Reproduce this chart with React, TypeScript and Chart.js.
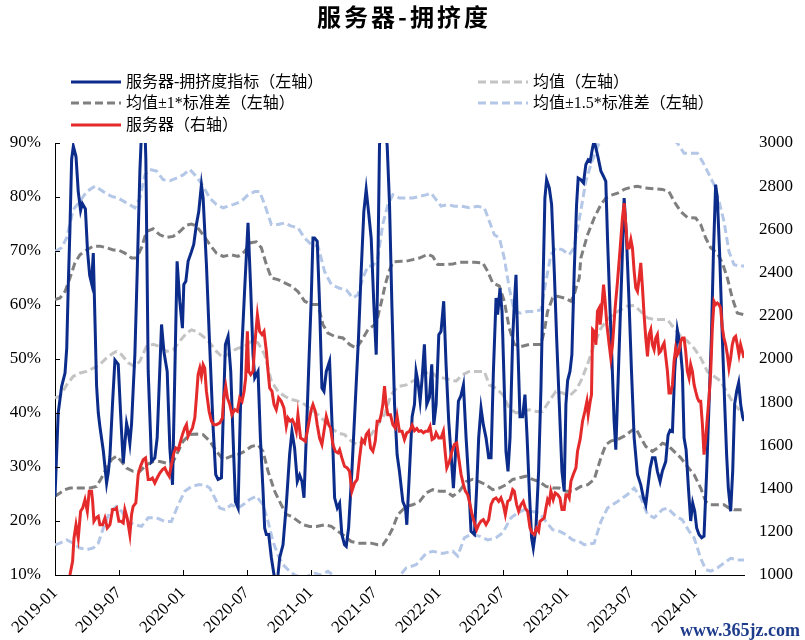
import { useEffect, useRef } from 'react';
import { Chart, registerables } from 'chart.js';

Chart.register(...registerables);

// x values: months since 2019-01 (0 = 2019-01, 6 = 2019-07, ...)
const title = '服务器-拥挤度';
const seriesNames = ['服务器-拥挤度指标（左轴）', '均值（左轴）', '均值±1*标准差（左轴）', '均值±1.5*标准差（左轴）', '服务器（右轴）'];
const xMin = 0;
const xMax = 64.61;
const xStep = 6;
const leftTicks = { min: 10, max: 90, step: 10 };
const rightTicks = { min: 1000, max: 3000, step: 200 };
const watermark = 'www.365jz.com';

// 服务器-拥挤度指标 (%), left axis
const indexSeries: [number, number][] = [
  [0, 24.5], [0.3, 40], [0.62, 44.9], [0.94, 47.4], [1.1, 52], [1.25, 64], [1.4, 74], [1.56, 87], [1.72, 89.4], [1.97, 87.5],
  [2.18, 81], [2.4, 77.5], [2.56, 78.8], [2.85, 77.8], [3.05, 70], [3.25, 65.5], [3.43, 64], [3.59, 69.6], [3.75, 57], [3.9, 45],
  [4.06, 40], [4.21, 37.5], [4.53, 33], [4.84, 27], [5.0, 29], [5.15, 32], [5.4, 42], [5.62, 49.8], [5.93, 49], [6.15, 40],
  [6.25, 36.2], [6.4, 30.7], [6.71, 38.1], [6.87, 36.6], [7.02, 34.4], [7.18, 38], [7.33, 44.3], [7.49, 50.8], [7.71, 66.2], [7.96, 84.8],
  [8.11, 92], [8.43, 93], [8.52, 87], [8.74, 47.7], [9.05, 31], [9.36, 31.7], [9.58, 35.4], [9.99, 56.4], [10.21, 51.4], [10.52, 47.7],
  [10.77, 33.5], [11.02, 26.7], [11.24, 47.7], [11.45, 68.1], [11.7, 60.7], [11.95, 55.7], [12.08, 63.8], [12.27, 64.4], [12.48, 68.1], [12.8, 69.9],
  [13.01, 71.2], [13.26, 74.9], [13.48, 77.3], [13.73, 82.3], [13.89, 79.8], [14.2, 67.5], [14.45, 55.1], [14.83, 37.2], [15.07, 28.6], [15.29, 27.7],
  [15.61, 28], [15.76, 38.5], [15.98, 52.7], [16.23, 54.2], [16.48, 47.7], [16.7, 35.4], [16.92, 23.6], [17.17, 22.4], [17.32, 35.4], [17.54, 52.7],
  [17.79, 63.1], [18.1, 75.2], [18.35, 63.1], [18.57, 50.8], [18.73, 46.5], [19.04, 47.7], [19.26, 35.4], [19.51, 25.5], [19.66, 18.7], [19.82, 17.5],
  [20.04, 17.5], [20.29, 13.2], [20.54, 10], [20.75, 8.5], [20.91, 10], [21.07, 13.2], [21.38, 15.6], [21.69, 23], [22.0, 32.3], [22.22, 36.6],
  [22.47, 33.5], [22.72, 27.3], [22.94, 28.5], [23.16, 27.3], [23.35, 24.3], [23.56, 35.4], [23.78, 47.7], [24.03, 61.3], [24.19, 72.4], [24.34, 72.4],
  [24.59, 71.8], [24.81, 60.1], [25.03, 44.6], [25.22, 44], [25.44, 47.7], [25.75, 49.6], [25.97, 38.5], [26.22, 24.3], [26.47, 22.4], [26.69, 23.3],
  [26.9, 17.5], [27.15, 15.6], [27.31, 15.3], [27.53, 18.7], [27.84, 29.2], [28.15, 41.6], [28.46, 53.9], [28.71, 66.2], [28.96, 77.3], [29.18, 81.4],
  [29.4, 77.3], [29.65, 72.4], [29.9, 60.1], [30.12, 50.8], [30.27, 66.2], [30.43, 89.7], [30.65, 93], [30.96, 93], [31.15, 89.5], [31.37, 78.6],
  [31.59, 60.1], [31.84, 41.6], [32.08, 32.3], [32.3, 29.2], [32.62, 23.6], [32.87, 22.4], [32.99, 19.3], [33.24, 29.2], [33.49, 39.3], [33.71, 41.6],
  [33.86, 47.7], [34.02, 46], [34.24, 42.2], [34.43, 46.5], [34.64, 52.7], [34.86, 41.6], [35.11, 42.9], [35.33, 49], [35.52, 37.8], [35.74, 41.6],
  [35.99, 54.5], [36.2, 55.1], [36.45, 60.7], [36.67, 49], [36.92, 38.5], [37.14, 32.3], [37.36, 26.1], [37.61, 34.2], [37.83, 42.2], [38.05, 43.1],
  [38.3, 45.2], [38.55, 35.4], [38.76, 28.6], [39.01, 18.1], [39.33, 17.5], [39.54, 26.1], [39.73, 35.4], [39.95, 40.9], [40.17, 37.8], [40.42, 35.4],
  [40.67, 31.7], [40.89, 31.7], [41.11, 47.7], [41.36, 61.3], [41.51, 58.2], [41.73, 63.1], [41.92, 58.8], [42.13, 44.6], [42.29, 32.9], [42.48, 29.2],
  [42.67, 35.4], [42.92, 53.9], [43.07, 60.1], [43.23, 65.6], [43.38, 53.9], [43.6, 39.3], [43.85, 39.3], [44.07, 43.4], [44.26, 35.9], [44.48, 25.5],
  [44.69, 16.9], [44.85, 15], [45.1, 18.7], [45.35, 29.2], [45.57, 44.6], [45.79, 66.2], [45.94, 79.8], [46.1, 83.2], [46.35, 81.7], [46.57, 78.6],
  [46.82, 66.2], [47.04, 53.9], [47.29, 41.6], [47.54, 29.2], [47.75, 25.5], [47.91, 41.6], [48.07, 46], [48.29, 47.7], [48.47, 50.8], [48.69, 66.2],
  [48.91, 78.6], [49.06, 83.5], [49.31, 83.2], [49.56, 82.6], [49.78, 86], [50.0, 86.9], [50.19, 86.6], [50.41, 89.1], [50.56, 90.5], [50.72, 89.1],
  [50.94, 87.2], [51.19, 84.8], [51.44, 83.8], [51.65, 82.9], [51.81, 72.4], [52.03, 60.1], [52.22, 50.2], [52.43, 38.5], [52.59, 33.2], [52.75, 42.8],
  [52.97, 55.7], [53.15, 66.2], [53.37, 79.8], [53.59, 72.4], [53.84, 60.1], [54.06, 47.7], [54.31, 35.4], [54.62, 28.6], [54.93, 26.7], [55.18, 24.3],
  [55.4, 23], [55.62, 26.7], [55.81, 29.8], [56.02, 31.7], [56.27, 31.7], [56.49, 29.2], [56.74, 27.3], [56.95, 29.2], [57.27, 31], [57.49, 35.9],
  [57.68, 36.8], [57.9, 36.6], [58.11, 47.7], [58.36, 55.4], [58.61, 52.7], [58.83, 47.7], [58.99, 35.4], [59.18, 33.2], [59.4, 26.1], [59.61, 20],
  [59.8, 23.3], [59.99, 21.8], [60.17, 18.7], [60.39, 17.5], [60.64, 16.9], [60.86, 17.2], [61.11, 29.2], [61.33, 41.6], [61.55, 53.9], [61.74, 69.3],
  [61.95, 82.3], [62.11, 79.8], [62.33, 69.3], [62.58, 53.9], [62.8, 41.6], [62.98, 32.3], [63.14, 26.1], [63.36, 21.8], [63.55, 29.2], [63.73, 41.6],
  [63.92, 44], [64.11, 45.6], [64.3, 41.6], [64.48, 39.3], [64.61, 38.5],
];

// 均值 (%)
const meanSeries: [number, number][] = [
  [0, 42.8], [0.47, 43.1], [1.09, 45.2], [1.72, 46.8], [2.34, 47.4], [2.97, 47.7], [3.59, 48.3], [4.21, 49], [4.84, 50.2], [5.46, 51.1],
  [5.77, 51.4], [6.24, 50.8], [6.87, 49.3], [7.49, 48.6], [7.96, 49.6], [8.58, 52.3], [9.21, 52.7], [9.83, 52.3], [10.46, 51.4], [11.08, 51.7],
  [11.7, 53.3], [12.33, 54.8], [12.8, 55.4], [13.26, 55.1], [13.89, 54.2], [14.51, 53], [15.14, 51.4], [15.76, 50.2], [16.54, 51.4], [17.17, 52],
  [17.79, 52.3], [18.41, 53.3], [19.04, 53], [19.66, 50.8], [20.29, 45.9], [20.91, 44], [21.54, 43.1], [22.16, 42.5], [22.78, 42.2], [23.41, 41.6],
  [24.03, 40.6], [24.66, 39.7], [25.28, 38.5], [25.91, 37.2], [26.53, 36.3], [27.15, 36], [27.78, 34.8], [28.4, 34.1], [29.03, 35.1], [29.65, 36],
  [30.27, 37.8], [30.9, 39.7], [31.52, 43.4], [32.15, 44.9], [32.93, 45.2], [33.55, 45.9], [34.18, 46.5], [34.8, 47.4], [35.27, 47.7], [35.74, 46.8],
  [36.36, 46.5], [36.99, 46.2], [37.61, 45.9], [38.23, 47.1], [38.86, 47.7], [39.48, 47.7], [40.26, 47.7], [40.73, 45.2], [41.36, 44.6], [41.98, 43.4],
  [42.6, 40.9], [43.23, 40], [43.85, 40.3], [44.48, 40.6], [45.1, 40.3], [45.72, 40.3], [46.35, 42.2], [46.97, 44], [47.6, 43.7], [48.22, 43.1],
  [48.85, 44.3], [49.31, 45.9], [49.94, 49], [50.56, 52.7], [51.19, 55.7], [51.81, 57.3], [52.43, 58.5], [53.06, 59.1], [53.68, 59.8], [54.31, 59.9],
  [54.93, 58.8], [55.56, 57.6], [56.18, 57.3], [56.8, 57.3], [57.43, 57.3], [58.05, 55.7], [58.68, 54.2], [59.3, 53.3], [59.93, 52], [60.55, 50.2],
  [61.17, 47.7], [61.8, 46.8], [62.42, 45.9], [63.05, 43.7], [63.67, 41.6], [64.3, 40.3], [64.61, 40],
];

// 均值+1*标准差 (%)
const upper1Series: [number, number][] = [
  [0, 61], [0.47, 61.3], [0.94, 62.5], [1.4, 65], [1.87, 67.8], [2.34, 69.3], [2.97, 70.2], [3.59, 70.9], [4.21, 70.9], [4.84, 70.6],
  [5.46, 70.2], [5.93, 70.2], [6.55, 69.6], [7.18, 68.7], [7.65, 68.7], [8.11, 70.6], [8.58, 73.6], [9.21, 74.1], [9.83, 73], [10.46, 72.5],
  [11.08, 72.7], [11.7, 73.6], [12.33, 74.8], [12.8, 75], [13.26, 74.6], [13.89, 73], [14.51, 71.2], [15.14, 69.6], [15.76, 69], [16.54, 69.3],
  [17.17, 69], [17.79, 69.9], [18.26, 71.5], [18.88, 71.7], [19.35, 70.6], [19.82, 67.5], [20.29, 65], [20.91, 64.7], [21.54, 64.1], [22.16, 63.5],
  [22.78, 62.5], [23.41, 60.7], [24.03, 60.1], [24.66, 60.1], [25.12, 56.4], [25.59, 54.8], [26.22, 54.2], [27.0, 53.9], [27.62, 52.7], [28.25, 52],
  [28.71, 53.3], [29.34, 55.4], [30.12, 56.6], [30.6, 60.5], [31.0, 64], [31.37, 66.5], [31.7, 68], [32.46, 68.1], [32.93, 68.1], [33.55, 68.4],
  [34.18, 68.7], [34.96, 69.4], [35.42, 69], [35.89, 67.5], [36.52, 67.5], [37.3, 67.6], [37.92, 67.9], [38.55, 67.9], [39.33, 67.9], [40.11, 67.8],
  [40.58, 66.2], [41.04, 64.1], [41.67, 63.5], [42.13, 60.7], [42.6, 55.7], [43.07, 52.7], [43.7, 52.3], [44.48, 52.7], [45.1, 52.7], [45.57, 52.7],
  [45.88, 55.1], [46.19, 58.8], [46.66, 61.3], [47.13, 61.6], [47.75, 61.3], [48.38, 60.7], [48.69, 61.9], [48.85, 63.1], [49.16, 65], [49.31, 68.7],
  [49.94, 73], [50.56, 76.1], [51.19, 78.6], [51.65, 79.8], [52.12, 80.3], [52.75, 80.7], [53.37, 81.4], [53.99, 81.8], [54.62, 82], [55.24, 81.7],
  [56.18, 81.5], [56.96, 81.4], [57.58, 81], [58.05, 79.2], [58.68, 77.3], [59.3, 76.2], [60.08, 76.1], [60.55, 74.9], [61.02, 72.4], [61.49, 70.6],
  [62.11, 69.6], [62.58, 67.8], [63.05, 65], [63.51, 61.3], [63.98, 58.5], [64.61, 58.2],
];

// 均值-1*标准差 (%)
const lower1Series: [number, number][] = [
  [0, 24.6], [0.47, 25.2], [0.94, 25.8], [1.4, 26.1], [2.03, 26.1], [2.65, 26.1], [3.28, 26.1], [3.9, 26.4], [4.37, 28], [4.84, 29.8],
  [5.31, 31.4], [5.77, 32], [6.24, 31], [6.71, 29.8], [7.33, 29.2], [7.96, 29.2], [8.58, 30.4], [9.21, 31], [9.83, 31], [10.46, 30.7],
  [11.08, 31], [11.55, 32.9], [12.02, 34.8], [12.64, 36], [13.26, 36.1], [13.89, 36], [14.51, 34.8], [15.14, 32.9], [15.76, 31.4], [16.54, 32],
  [17.17, 32.3], [17.79, 32.9], [18.41, 33.8], [19.04, 34.1], [19.51, 32.9], [19.98, 29.2], [20.6, 25.5], [21.22, 23], [21.69, 21.2], [22.16, 20.9],
  [22.63, 20.2], [23.25, 19.3], [23.88, 19], [24.5, 19], [25.28, 19.3], [25.91, 19], [26.53, 18.1], [27.15, 17.2], [27.78, 16.2], [28.4, 15.9],
  [29.03, 15.9], [29.65, 15.9], [30.27, 15.6], [30.74, 15.6], [31.21, 16.9], [31.68, 18.7], [32.15, 21.2], [32.93, 22.7], [33.55, 23], [34.18, 23.6],
  [34.8, 25.2], [35.42, 25.8], [36.05, 25.5], [36.67, 25.5], [37.3, 24.6], [37.92, 25.5], [38.55, 27.3], [39.17, 27.7], [39.79, 27.3], [40.42, 26.7],
  [41.04, 25.8], [41.67, 26.1], [42.29, 26.7], [42.92, 27.7], [43.54, 28], [44.16, 28.3], [44.79, 27.7], [45.41, 27.3], [46.04, 26.4], [46.66, 26.1],
  [47.29, 26.1], [47.91, 25.5], [48.53, 25.5], [49.31, 26.4], [49.94, 26.7], [50.56, 27.7], [51.19, 31.7], [51.65, 34.1], [52.12, 34.8], [52.75, 35.1],
  [53.37, 35.7], [53.99, 36.6], [54.46, 37.2], [54.93, 35.4], [55.4, 33.8], [56.02, 32.9], [56.49, 33.5], [56.96, 34.4], [57.43, 34.1], [58.05, 32.9],
  [58.68, 31.7], [59.3, 30.1], [59.93, 28.6], [60.55, 26.1], [61.02, 23.6], [61.49, 23], [62.11, 23], [62.73, 23], [63.2, 22.4], [63.67, 22.1],
  [64.61, 22.1],
];

// 均值+1.5*标准差 (%)
const upper15Series: [number, number][] = [
  [0, 69.9], [0.62, 70.6], [1.09, 72.4], [1.72, 77.7], [2.34, 79.2], [2.97, 81], [3.75, 82], [4.53, 81], [5.31, 80.1], [5.93, 79.8],
  [6.71, 78.9], [7.49, 78], [7.96, 79.8], [8.43, 84.1], [8.9, 85.1], [9.52, 84.8], [10.14, 83.2], [10.77, 83], [11.39, 83.5], [12.02, 84.1],
  [12.64, 85.1], [13.26, 83.8], [13.89, 82], [14.51, 79.8], [15.14, 78.6], [15.76, 78], [16.7, 78.6], [17.48, 79.2], [18.1, 80.4], [18.73, 81],
  [19.19, 81], [19.66, 78.6], [20.29, 74.9], [20.91, 74.9], [21.54, 75.2], [22.16, 74.6], [22.78, 74.3], [23.41, 72.4], [24.03, 71.2], [24.66, 70.9],
  [25.28, 66.2], [25.91, 63.8], [26.69, 63.1], [27.31, 62.8], [27.93, 61.3], [28.4, 61.9], [28.87, 65], [29.34, 67.2], [29.81, 67.2], [30.27, 68.7],
  [30.74, 75], [31.21, 78.5], [31.68, 80.4], [32.3, 79.8], [32.93, 79.8], [33.55, 79.8], [34.18, 80.1], [34.8, 80.4], [35.27, 80.7], [35.74, 79.5],
  [36.2, 78.3], [36.83, 78.6], [37.45, 78.3], [38.08, 78.3], [38.86, 78], [39.64, 78.3], [40.26, 78], [40.73, 75.5], [41.2, 73], [41.67, 72.4],
  [42.13, 68.7], [42.6, 63.1], [43.07, 58.8], [43.7, 58.5], [44.32, 58.8], [44.95, 58.8], [45.57, 59.1], [46.04, 64.4], [46.5, 69.3], [46.97, 70.6],
  [47.6, 70.2], [48.22, 69.3], [48.69, 70.6], [49.0, 74.3], [49.31, 77.5], [49.78, 82.9], [50.25, 86], [50.72, 88.5], [51.03, 90], [51.6, 91.5],
  [52.5, 92.5], [53.5, 93.5], [54.5, 94], [55.5, 94], [56.5, 93], [57.3, 91.5], [58.36, 90], [58.99, 88.1], [59.61, 88.1], [60.24, 88.1],
  [60.71, 86.6], [61.17, 84.8], [61.8, 82.3], [62.27, 79.2], [62.73, 75.5], [63.2, 69.9], [63.67, 67.5], [64.14, 67.2], [64.61, 67.2],
];

// 均值-1.5*标准差 (%)
const lower15Series: [number, number][] = [
  [0, 15.6], [0.47, 15.9], [1.09, 16.5], [1.72, 15.9], [2.34, 15], [2.97, 14.7], [3.59, 15], [4.06, 15.9], [4.53, 18.7], [5.15, 21.8],
  [5.77, 22.7], [6.24, 21.8], [6.87, 19.9], [7.49, 19.3], [8.11, 19], [8.74, 20.6], [9.52, 20.6], [10.3, 19.9], [10.92, 19.9], [11.55, 23],
  [12.17, 25.5], [12.8, 26.4], [13.42, 26.7], [14.04, 26.7], [14.51, 26.1], [14.98, 24.3], [15.45, 22.4], [15.92, 22.1], [16.54, 23], [17.17, 22.4],
  [17.63, 23], [18.26, 24], [18.88, 24.6], [19.51, 23], [19.98, 19.9], [20.44, 16.2], [20.91, 13.7], [21.38, 11.9], [21.85, 11], [22.47, 10],
  [23.1, 9.5], [23.72, 9.8], [24.34, 10.3], [24.97, 10], [25.59, 10.7], [26.06, 10], [27.2, 8.2], [28.4, 6.8], [29.3, 5.5], [30.3, 4.5],
  [31.2, 4.5], [31.8, 6], [32.3, 9.8], [32.93, 11.3], [33.86, 11.9], [34.8, 14], [35.42, 14.4], [36.36, 14], [37.3, 14.4], [37.76, 13.5],
  [38.39, 16.9], [39.01, 17.5], [39.79, 17.2], [40.58, 16.5], [41.36, 16.9], [41.98, 17.8], [42.76, 20.6], [43.38, 21.5], [44.01, 22.1], [44.63, 21.8],
  [45.41, 21.5], [46.04, 19.9], [46.66, 18.4], [47.29, 18.1], [47.91, 17.5], [48.53, 16.5], [49.16, 16.2], [49.63, 15.6], [50.56, 15.9], [51.19, 19.9],
  [51.81, 22.4], [52.75, 23.6], [53.68, 24.9], [54.31, 26.1], [54.93, 24.3], [55.56, 21.2], [56.18, 20.6], [56.96, 22.1], [57.43, 22.4], [58.05, 21.2],
  [58.83, 20.2], [59.46, 18.1], [59.93, 16.9], [60.55, 13.1], [61.02, 11], [61.49, 10.7], [62.11, 11.3], [62.73, 12.2], [63.36, 13.1], [63.98, 12.8],
  [64.61, 12.8],
];

// 服务器 (right axis)
const serverSeries: [number, number][] = [
  [1.4, 1000], [1.65, 1063], [1.78, 1171], [1.97, 1233], [2.18, 1171], [2.4, 1295], [2.59, 1310], [2.81, 1349], [3.03, 1295], [3.21, 1388],
  [3.43, 1388], [3.53, 1341], [3.65, 1249], [3.84, 1264], [4.06, 1272], [4.21, 1233], [4.46, 1233], [4.68, 1264], [4.9, 1218], [5.15, 1233],
  [5.4, 1303], [5.62, 1303], [5.77, 1310], [5.99, 1249], [6.18, 1249], [6.4, 1241], [6.55, 1303], [6.77, 1264], [7.02, 1187], [7.18, 1280],
  [7.33, 1318], [7.58, 1334], [7.8, 1465], [8.02, 1503], [8.27, 1534], [8.49, 1542], [8.74, 1442], [8.96, 1442], [9.14, 1449], [9.36, 1426],
  [9.58, 1449], [9.83, 1472], [10.08, 1488], [10.3, 1496], [10.52, 1472], [10.71, 1457], [10.92, 1511], [11.14, 1565], [11.33, 1588], [11.55, 1580],
  [11.77, 1619], [11.95, 1650], [12.17, 1681], [12.33, 1696], [12.48, 1642], [12.64, 1658], [12.89, 1681], [13.11, 1727], [13.26, 1820], [13.42, 1928],
  [13.58, 1958], [13.73, 1920], [13.89, 1974], [14.04, 1958], [14.2, 1850], [14.45, 1758], [14.67, 1712], [14.89, 1696], [15.14, 1696], [15.45, 1704],
  [15.7, 1727], [15.82, 1820], [16.01, 1874], [16.17, 1820], [16.39, 1789], [16.6, 1742], [16.85, 1766], [17.1, 1758], [17.32, 1820], [17.54, 1804],
  [17.73, 1850], [17.88, 1912], [18.04, 2128], [18.16, 1943], [18.35, 1928], [18.57, 1943], [18.73, 2066], [18.98, 2205], [19.19, 2128], [19.41, 2113],
  [19.6, 2128], [19.82, 2036], [19.98, 1943], [20.13, 1866], [20.35, 1850], [20.54, 1789], [20.75, 1766], [20.97, 1820], [21.22, 1804], [21.47, 1773],
  [21.69, 1688], [21.85, 1727], [22.07, 1712], [22.25, 1719], [22.47, 1696], [22.63, 1665], [22.78, 1742], [23.03, 1634], [23.25, 1627], [23.47, 1619],
  [23.66, 1665], [23.88, 1727], [24.03, 1766], [24.19, 1789], [24.41, 1758], [24.59, 1696], [24.81, 1634], [25.03, 1604], [25.22, 1665], [25.44, 1735],
  [25.66, 1696], [25.84, 1681], [26.06, 1604], [26.28, 1573], [26.53, 1565], [26.69, 1580], [26.9, 1542], [27.15, 1503], [27.4, 1496], [27.62, 1480],
  [27.84, 1388], [28.09, 1426], [28.34, 1442], [28.56, 1542], [28.78, 1627], [29.03, 1611], [29.18, 1650], [29.4, 1665], [29.59, 1588], [29.81, 1573],
  [30.03, 1619], [30.21, 1712], [30.43, 1712], [30.59, 1742], [30.74, 1789], [30.9, 1874], [31.05, 1789], [31.21, 1742], [31.46, 1742], [31.68, 1696],
  [31.9, 1681], [32.08, 1735], [32.3, 1665], [32.55, 1665], [32.77, 1627], [32.99, 1658], [33.24, 1665], [33.49, 1693], [33.71, 1668], [33.93, 1678],
  [34.11, 1665], [34.33, 1668], [34.55, 1658], [34.74, 1665], [34.96, 1665], [35.17, 1688], [35.36, 1627], [35.58, 1634], [35.74, 1658], [35.99, 1634],
  [36.2, 1634], [36.42, 1665], [36.61, 1557], [36.74, 1496], [36.99, 1526], [37.23, 1573], [37.45, 1604], [37.67, 1611], [37.86, 1542], [38.08, 1465],
  [38.3, 1418], [38.48, 1388], [38.7, 1372], [38.92, 1326], [39.11, 1280], [39.33, 1241], [39.54, 1210], [39.73, 1233], [39.95, 1249], [40.17, 1256],
  [40.42, 1233], [40.67, 1256], [40.89, 1326], [41.11, 1349], [41.36, 1357], [41.61, 1341], [41.82, 1357], [42.04, 1326], [42.23, 1280], [42.45, 1341],
  [42.67, 1349], [42.92, 1395], [43.07, 1388], [43.29, 1326], [43.48, 1295], [43.7, 1326], [43.91, 1341], [44.1, 1310], [44.32, 1295], [44.54, 1218],
  [44.73, 1195], [44.95, 1187], [45.16, 1218], [45.35, 1203], [45.48, 1249], [45.66, 1256], [45.88, 1264], [46.04, 1310], [46.19, 1349], [46.35, 1334],
  [46.5, 1388], [46.72, 1349], [46.91, 1380], [47.13, 1372], [47.35, 1357], [47.54, 1303], [47.75, 1303], [47.91, 1372], [48.07, 1372], [48.22, 1357],
  [48.38, 1434], [48.6, 1465], [48.85, 1496], [49.0, 1573], [49.25, 1630], [49.47, 1712], [49.69, 1758], [49.88, 1804], [50.0, 1742], [50.19, 1804],
  [50.31, 1835], [50.41, 2136], [50.56, 2128], [50.72, 2066], [50.87, 2221], [51.03, 2236], [51.12, 2159], [51.25, 2221], [51.44, 2344], [51.56, 2283],
  [51.75, 2159], [51.97, 2066], [52.12, 2005], [52.28, 2066], [52.5, 2221], [52.75, 2360], [53.0, 2514], [53.21, 2653], [53.37, 2722], [53.53, 2622],
  [53.68, 2514], [53.84, 2514], [54.0, 2553], [54.15, 2514], [54.31, 2406], [54.46, 2329], [54.62, 2313], [54.78, 2375], [54.93, 2445], [55.09, 2329],
  [55.24, 2205], [55.4, 2097], [55.56, 2012], [55.71, 2113], [55.87, 2136], [56.02, 2066], [56.18, 2043], [56.34, 2097], [56.49, 2113], [56.65, 2028],
  [56.8, 2036], [56.96, 2059], [57.12, 2074], [57.27, 2012], [57.43, 1943], [57.58, 1843], [57.74, 1843], [57.9, 1881], [58.05, 1989], [58.21, 2051],
  [58.36, 2020], [58.52, 2036], [58.68, 2082], [58.83, 2097], [58.99, 2097], [59.14, 2036], [59.3, 1943], [59.46, 1912], [59.61, 1974], [59.77, 1943],
  [59.93, 1881], [60.08, 1850], [60.24, 1820], [60.39, 1804], [60.55, 1804], [60.71, 1696], [60.86, 1557], [61.02, 1634], [61.17, 1727], [61.33, 1820],
  [61.49, 1943], [61.64, 2144], [61.8, 2267], [61.95, 2252], [62.11, 2259], [62.27, 2252], [62.42, 2236], [62.58, 2144], [62.73, 2097], [62.89, 2066],
  [63.05, 2020], [63.2, 1958], [63.36, 2005], [63.51, 2066], [63.67, 2097], [63.83, 2105], [63.98, 2066], [64.14, 2020], [64.29, 2066], [64.45, 2036],
  [64.61, 2005],
];

const BLUE = '#0B2C8A';
const RED = '#E42A2A';
const GRAY_LIGHT = '#C4C4C4';
const GRAY_DARK = '#7F7F7F';
const BLUE_LIGHT = '#B4C7E7';
const DASH = [8, 4];

const SERIF = '"Liberation Serif", "Times New Roman", serif';
const MIXED = '"Liberation Serif", "Noto Sans CJK SC", serif';

function monthLabel(m: number): string {
  const y = 2019 + Math.floor(m / 12);
  const mo = (m % 12) + 1;
  return `${y}-${mo < 10 ? '0' + mo : mo}`;
}

const pts = (a: [number, number][]) => a.map(([x, y]) => ({ x, y }));

const overlayPlugin = {
  id: 'overlay',
  afterDraw(chart: any) {
    const { ctx, chartArea: ca, scales } = chart;
    ctx.save();
    // inward tick marks
    ctx.strokeStyle = '#000';
    ctx.lineWidth = 1;
    ctx.setLineDash([]);
    ctx.beginPath();
    scales.x.ticks.forEach((t: any) => {
      const px = Math.round(scales.x.getPixelForValue(t.value)) + 0.5;
      ctx.moveTo(px, ca.bottom);
      ctx.lineTo(px, ca.bottom - 5);
    });
    scales.y.ticks.forEach((t: any) => {
      const py = Math.round(scales.y.getPixelForValue(t.value)) + 0.5;
      ctx.moveTo(ca.left, py);
      ctx.lineTo(ca.left + 5, py);
    });
    ctx.stroke();

    // title
    ctx.fillStyle = '#000';
    ctx.font = 'bold 24px "Noto Sans CJK SC", sans-serif';
    ctx.textAlign = 'center';
    ctx.textBaseline = 'middle';
    try { (ctx as any).letterSpacing = '3px'; } catch (e) { /* ignore */ }
    ctx.fillText(title, 404, 17);
    try { (ctx as any).letterSpacing = '0px'; } catch (e) { /* ignore */ }

    // legend
    const items = [
      { text: seriesNames[0], color: BLUE, dash: [] as number[], x: 71, y: 82 },
      { text: seriesNames[1], color: GRAY_LIGHT, dash: DASH, x: 478, y: 82 },
      { text: seriesNames[2], color: GRAY_DARK, dash: DASH, x: 71, y: 103 },
      { text: seriesNames[3], color: BLUE_LIGHT, dash: DASH, x: 478, y: 103 },
      { text: seriesNames[4], color: RED, dash: [] as number[], x: 71, y: 125 },
    ];
    ctx.textAlign = 'left';
    ctx.font = `16px ${MIXED}`;
    items.forEach((it) => {
      ctx.strokeStyle = it.color;
      ctx.lineWidth = 3;
      ctx.setLineDash(it.dash);
      ctx.beginPath();
      ctx.moveTo(it.x, it.y);
      ctx.lineTo(it.x + 50, it.y);
      ctx.stroke();
      ctx.setLineDash([]);
      ctx.fillStyle = '#000';
      ctx.fillText(it.text, it.x + 55, it.y + 1);
    });

    // watermark
    ctx.font = `bold 18px ${SERIF}`;
    ctx.fillStyle = '#1E3C8C';
    ctx.textAlign = 'right';
    ctx.textBaseline = 'alphabetic';
    ctx.fillText(watermark, 800, 636);
    ctx.restore();
  },
};

export default function App() {
  const ref = useRef<HTMLCanvasElement | null>(null);

  useEffect(() => {
    if (!ref.current) return;
    const base = { pointRadius: 0, pointHoverRadius: 0, tension: 0, fill: false, borderWidth: 3, clip: 0 };
    const chart = new Chart(ref.current, {
      type: 'line',
      data: {
        datasets: [
          { ...base, label: seriesNames[4], data: pts(serverSeries), borderColor: RED, backgroundColor: RED, yAxisID: 'y1', order: 0 },
          { ...base, label: seriesNames[0], data: pts(indexSeries), borderColor: BLUE, backgroundColor: BLUE, yAxisID: 'y', order: 1 },
          { ...base, label: seriesNames[1], data: pts(meanSeries), borderColor: GRAY_LIGHT, borderDash: DASH, yAxisID: 'y', order: 2 },
          { ...base, label: seriesNames[2], data: pts(upper1Series), borderColor: GRAY_DARK, borderDash: DASH, yAxisID: 'y', order: 3 },
          { ...base, label: seriesNames[2] + '-', data: pts(lower1Series), borderColor: GRAY_DARK, borderDash: DASH, yAxisID: 'y', order: 3 },
          { ...base, label: seriesNames[3], data: pts(upper15Series), borderColor: BLUE_LIGHT, borderDash: DASH, yAxisID: 'y', order: 4 },
          { ...base, label: seriesNames[3] + '-', data: pts(lower15Series), borderColor: BLUE_LIGHT, borderDash: DASH, yAxisID: 'y', order: 4 },
        ] as any,
      },
      options: {
        responsive: false,
        animation: false,
        devicePixelRatio: 1,
        layout: { padding: { top: 143, left: 0, right: 0, bottom: 0 } },
        plugins: { legend: { display: false }, tooltip: { enabled: false }, title: { display: false } },
        scales: {
          x: {
            type: 'linear',
            min: xMin,
            max: xMax,
            grid: { display: false, drawTicks: false },
            border: { display: true, color: '#000', width: 1 },
            afterFit: (s: any) => { s.height = 65; },
            ticks: {
              stepSize: xStep,
              includeBounds: false,
              autoSkip: false,
              minRotation: 45,
              maxRotation: 45,
              padding: 8,
              color: '#000',
              font: { family: SERIF, size: 17 },
              callback: (v: any) => (Number(v) % xStep === 0 ? monthLabel(Number(v)) : ''),
            },
          },
          y: {
            type: 'linear',
            position: 'left',
            min: leftTicks.min,
            max: leftTicks.max,
            grid: { display: false, drawTicks: false },
            border: { display: true, color: '#000', width: 1 },
            afterFit: (s: any) => { s.width = 55; },
            ticks: {
              stepSize: leftTicks.step,
              padding: 14,
              color: '#000',
              font: { family: SERIF, size: 17 },
              callback: (v: any) => `${v}%`,
            },
          },
          y1: {
            type: 'linear',
            position: 'right',
            min: rightTicks.min,
            max: rightTicks.max,
            grid: { display: false, drawTicks: false },
            border: { display: false },
            afterFit: (s: any) => { s.width = 61; },
            ticks: {
              stepSize: rightTicks.step,
              padding: 15,
              color: '#000',
              font: { family: SERIF, size: 17 },
              callback: (v: any) => String(v),
            },
          },
        },
      } as any,
      plugins: [overlayPlugin],
    });
    return () => chart.destroy();
  }, []);

  return (
    <div style={{ position: 'fixed', left: 0, top: 0, width: 805, height: 640, background: '#fff' }}>
      <canvas ref={ref} width={805} height={640} style={{ display: 'block' }} />
    </div>
  );
}
